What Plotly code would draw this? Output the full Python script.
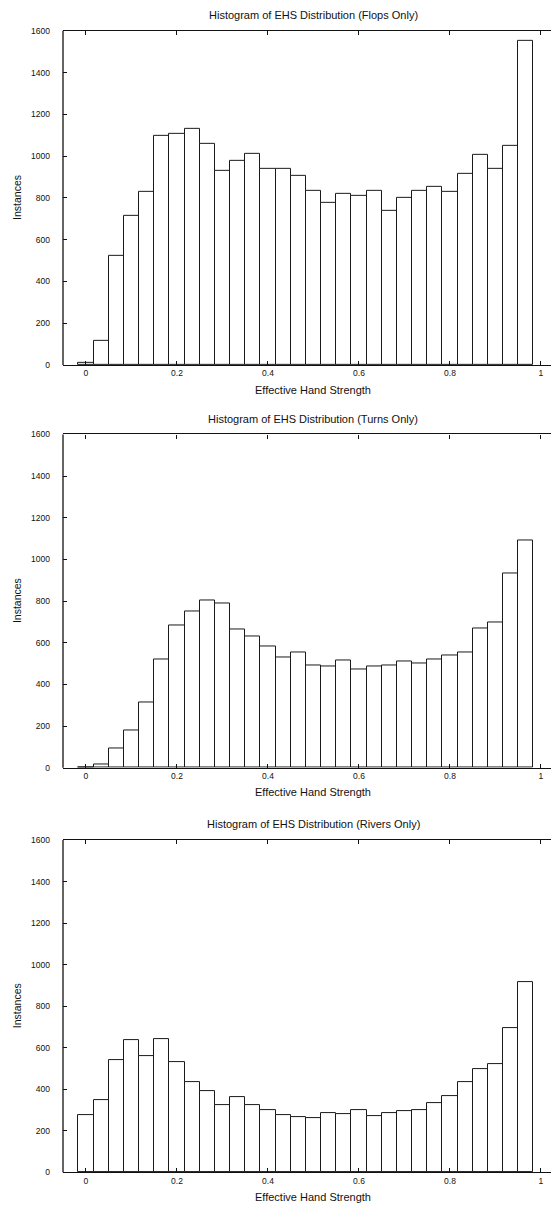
import plotly.graph_objects as go

# Bin centres of the EHS histogram (bin width 1/30)
bin_centers = [0.0, 0.0333, 0.0667, 0.1, 0.1333, 0.1667, 0.2, 0.2333, 0.2667, 0.3,
               0.3333, 0.3667, 0.4, 0.4333, 0.4667, 0.5, 0.5333, 0.5667, 0.6, 0.6333,
               0.6667, 0.7, 0.7333, 0.7667, 0.8, 0.8333, 0.8667, 0.9, 0.9333, 0.9667]
bin_width = 1 / 30

flops = [10, 115, 525, 712, 830, 1095, 1105, 1130, 1058, 932,
         980, 1012, 939, 940, 906, 832, 775, 819, 808, 832,
         738, 800, 832, 854, 827, 917, 1004, 941, 1050, 1551]
turns = [0, 14, 91, 178, 314, 521, 685, 751, 802, 787,
         665, 631, 582, 531, 555, 491, 486, 515, 470, 486,
         492, 512, 502, 518, 537, 555, 669, 696, 934, 1090]
rivers = [276, 349, 541, 637, 560, 640, 530, 433, 390, 322,
          363, 322, 299, 275, 266, 261, 285, 282, 302, 271,
          285, 295, 302, 334, 366, 435, 498, 519, 697, 916]

titles = ["Histogram of EHS Distribution (Flops Only)",
          "Histogram of EHS Distribution (Turns Only)",
          "Histogram of EHS Distribution (Rivers Only)"]
x_title = "Effective Hand Strength"
y_title = "Instances"
x_tickvals = [0, 0.2, 0.4, 0.6, 0.8, 1]
x_ticktext = ["0", "0.2", "0.4", "0.6", "0.8", "1"]
y_tickvals = [0, 200, 400, 600, 800, 1000, 1200, 1400, 1600]

# the page body adds an 8px margin; lay out in window pixels and subtract it
OFF = 8
W, H = 559 - OFF, 1215 - OFF
FONT = "Liberation Sans, Arial, sans-serif"

panels = [(26, 363), (433, 769), (842, 1177)]   # window px (top, bottom)
left_px = 63
x_range = [-0.0505, 1.0396]


def px_x(v):
    return (v - OFF) / W


def px_y(v):
    return 1 - (v - OFF) / H


fig = go.Figure()
series = [flops, turns, rivers]
for i, vals in enumerate(series):
    n = i + 1
    xa = "x" if n == 1 else f"x{n}"
    ya = "y" if n == 1 else f"y{n}"
    fig.add_trace(go.Bar(
        x=bin_centers, y=vals, width=bin_width,
        marker=dict(color="white", line=dict(color="#1a1a1a", width=1)),
        xaxis=xa, yaxis=ya, showlegend=False,
    ))
    top, bot = panels[i]
    xkey = "xaxis" if n == 1 else f"xaxis{n}"
    ykey = "yaxis" if n == 1 else f"yaxis{n}"
    fig.update_layout(**{
        xkey: dict(domain=[px_x(left_px), 1], anchor=ya, range=x_range,
                   tickvals=x_tickvals, ticktext=x_ticktext,
                   ticks="inside", ticklen=4, tickcolor="#111", tickwidth=1,
                   showline=True, linecolor="#111", linewidth=1.3, mirror="ticks",
                   showgrid=False, zeroline=False,
                   tickfont=dict(family=FONT, size=8.5, color="#111")),
        ykey: dict(domain=[px_y(bot), px_y(top)], anchor=xa, range=[0, 1600],
                   tickvals=y_tickvals,
                   ticks="inside", ticklen=4, tickcolor="#111", tickwidth=1,
                   showline=False, mirror="ticks",
                   showgrid=False, zeroline=False, ticklabelstandoff=12,
                   tickfont=dict(family=FONT, size=8.5, color="#111")),
    })
    fig.add_shape(type="line", xref=f"{xa} domain", yref=f"{ya} domain",
                  x0=0, x1=0, y0=0, y1=1, line=dict(color="#111", width=1.3))
    cx = px_x(313)
    fig.add_annotation(text=titles[i], xref="paper", yref="paper",
                       x=cx, y=px_y(top - 16), showarrow=False,
                       xanchor="center", yanchor="middle",
                       font=dict(family=FONT, size=11, color="#111"))
    fig.add_annotation(text=x_title, xref="paper", yref="paper",
                       x=cx, y=px_y(bot + 25), showarrow=False,
                       xanchor="center", yanchor="middle",
                       font=dict(family=FONT, size=11, color="#111"))
    fig.add_annotation(text=y_title, xref="paper", yref="paper",
                       x=px_x(17), y=px_y((top + bot) / 2), showarrow=False,
                       textangle=-90, xanchor="center", yanchor="middle",
                       font=dict(family=FONT, size=10.5, color="#111"))

fig.update_layout(width=W, height=H, margin=dict(l=0, r=0, t=0, b=0),
                  paper_bgcolor="white", plot_bgcolor="white", bargap=0)
fig.write_html("out.html")
